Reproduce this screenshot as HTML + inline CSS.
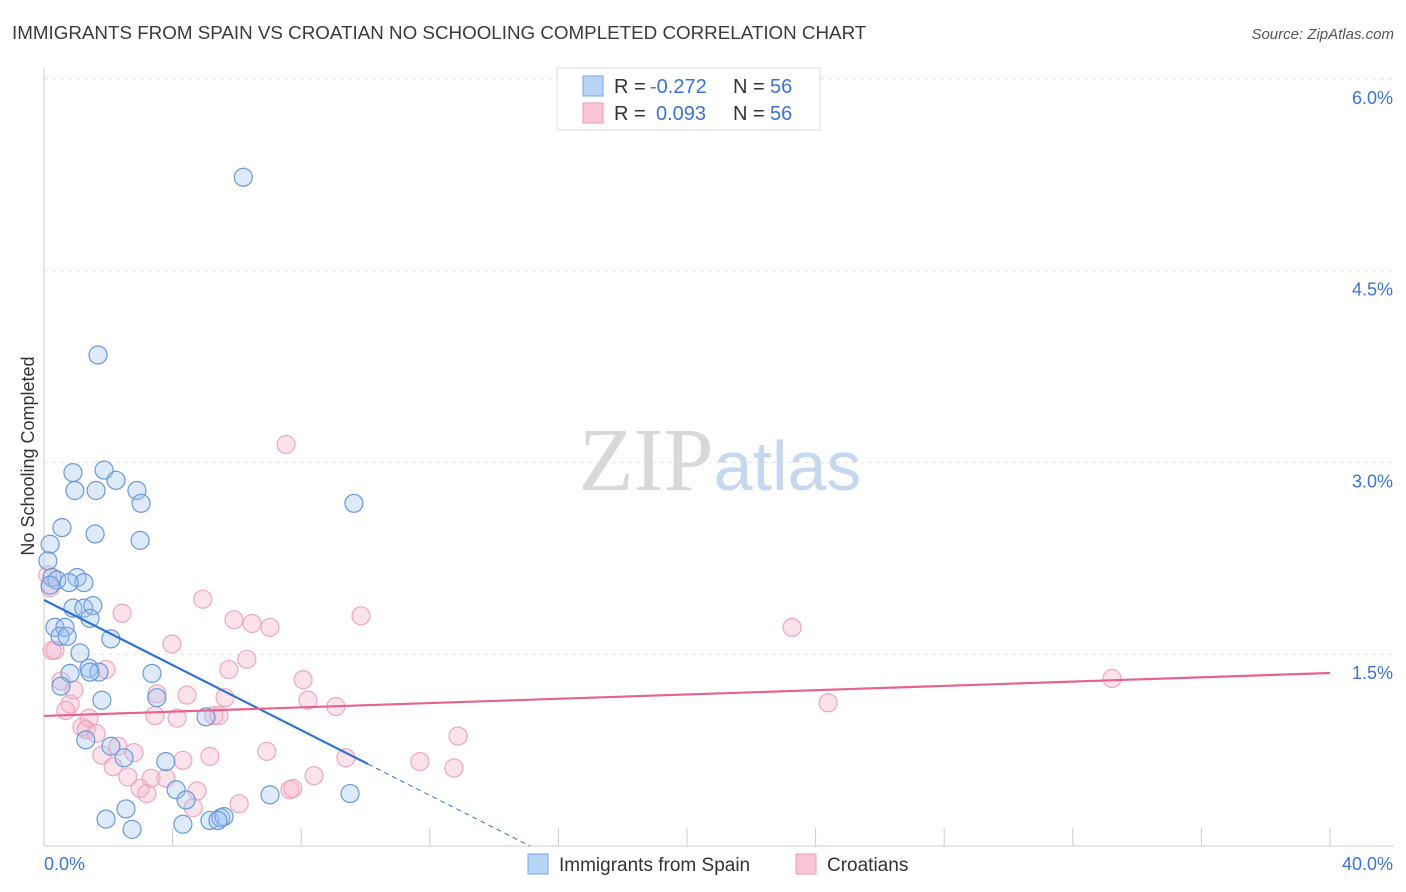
<!DOCTYPE html>
<html><head><meta charset="utf-8">
<style>
body{margin:0;background:#fff;font-family:"Liberation Sans",sans-serif;}
svg{display:block}
</style></head>
<body>
<svg id="chart" width="1406" height="892" xmlns="http://www.w3.org/2000/svg">
<text x="12" y="39" font-size="18.8" fill="#3a3a3a">IMMIGRANTS FROM SPAIN VS CROATIAN NO SCHOOLING COMPLETED CORRELATION CHART</text>
<text x="1394" y="39" font-size="15" fill="#555" text-anchor="end" font-style="italic">Source: ZipAtlas.com</text>
<text x="720" y="490" font-size="90" text-anchor="middle"><tspan fill="#d8d8d8" font-family="Liberation Serif">ZIP</tspan><tspan fill="#c5d8f0" font-size="70">atlas</tspan></text>
<g id="grid"></g>
<g id="axes"></g>
<g id="marks"></g>
<text transform="translate(34,456) rotate(-90)" font-size="18" fill="#333" text-anchor="middle">No Schooling Completed</text>
<g>
<rect x="557" y="68" width="263" height="62" fill="#fff" stroke="#ddd"/>
<rect x="583" y="76" width="20" height="20" fill="#b8d3f5" stroke="#7aa7e0"/>
<rect x="583" y="103" width="20" height="20" fill="#f9c6d5" stroke="#ee9ab4"/>
<text x="614" y="93" font-size="20" fill="#333">R =</text>
<text x="650" y="93" font-size="20" fill="#3a74d4">-0.272</text>
<text x="733" y="93" font-size="20" fill="#333">N =</text>
<text x="770" y="93" font-size="20" fill="#3a74d4">56</text>
<text x="614" y="120" font-size="20" fill="#333">R =</text>
<text x="656" y="120" font-size="20" fill="#3a74d4">0.093</text>
<text x="733" y="120" font-size="20" fill="#333">N =</text>
<text x="770" y="120" font-size="20" fill="#3a74d4">56</text>
</g>
<g>
<rect x="528" y="854" width="20" height="20" fill="#b8d3f5" stroke="#7aa7e0"/>
<text x="559" y="871" font-size="19" fill="#333">Immigrants from Spain</text>
<rect x="796" y="854" width="20" height="20" fill="#f9c6d5" stroke="#ee9ab4"/>
<text x="827" y="871" font-size="19" fill="#333">Croatians</text>
</g>
</svg>
<script>
const xTicks=[0,4,8,12,16,20,24,28,32,36,40];
const yTicks=[1.5,3.0,4.5,6.0];
const yTickLabels=["1.5%","3.0%","4.5%","6.0%"];
const spainX=[6.2,1.68,0.9,1.87,0.96,1.62,2.24,2.89,3.02,9.64,0.56,1.59,2.99,0.19,0.12,0.25,0.40,1.03,1.24,0.78,0.9,1.24,1.52,1.43,0.34,0.65,0.5,0.72,2.08,1.12,0.81,1.4,1.71,1.43,3.36,0.53,1.8,3.51,1.3,2.08,2.49,3.79,5.04,4.11,4.42,7.03,9.52,2.55,1.93,2.74,4.32,5.16,5.5,5.6,5.41,0.19];
const spainY=[5.23,3.84,2.92,2.94,2.78,2.78,2.86,2.78,2.68,2.68,2.49,2.44,2.39,2.36,2.23,2.1,2.08,2.1,2.06,2.06,1.86,1.86,1.88,1.78,1.71,1.71,1.64,1.64,1.62,1.51,1.35,1.39,1.36,1.36,1.35,1.25,1.14,1.16,0.83,0.78,0.69,0.66,1.01,0.44,0.36,0.40,0.41,0.29,0.21,0.13,0.17,0.20,0.22,0.23,0.20,2.04];
const croX=[7.53,4.94,2.43,5.91,6.47,7.03,9.86,23.27,3.98,0.34,6.31,5.75,1.93,8.06,0.53,33.22,0.93,4.45,3.51,5.63,8.21,0.81,0.68,1.4,3.45,4.14,5.28,5.44,9.08,24.39,1.18,1.31,1.62,2.3,2.8,4.32,5.16,6.93,9.39,12.88,1.8,2.15,2.61,3.33,3.79,2.99,3.2,4.76,4.64,6.07,7.65,7.74,8.4,11.69,12.75,0.12,0.19,0.25];
const croY=[3.14,1.93,1.82,1.77,1.74,1.71,1.8,1.71,1.58,1.53,1.46,1.38,1.38,1.30,1.29,1.31,1.22,1.18,1.19,1.16,1.14,1.11,1.06,1.0,1.02,1.0,1.02,1.02,1.09,1.12,0.93,0.91,0.88,0.78,0.73,0.67,0.70,0.74,0.69,0.86,0.71,0.62,0.54,0.53,0.53,0.45,0.41,0.43,0.30,0.33,0.44,0.45,0.55,0.66,0.61,2.12,2.02,1.53];
const spainLine=[1.924,-0.1273];
const croLine=[1.017,0.0084];
const X0=44,X1=1330,Y0=846,PY=127.87;
const sx=v=>X0+(X1-X0)*v/40, sy=v=>Y0-v*PY;
const NS="http://www.w3.org/2000/svg";
function mk(tag,attrs,parent){const e=document.createElementNS(NS,tag);for(const k in attrs)e.setAttribute(k,attrs[k]);parent.appendChild(e);return e;}
const grid=document.getElementById('grid'),axes=document.getElementById('axes'),marks=document.getElementById('marks');
yTicks.forEach((t,i)=>{
 const g=mk('line',{x1:X0,x2:1394,y1:sy(t),y2:sy(t),stroke:'#e2e2e2','stroke-dasharray':'4,4'},grid);
 
 
 const l=mk('text',{x:1393,y:sy(t)+25,'font-size':18,fill:'#3a74d4','text-anchor':'end'},axes);
 l.textContent=yTickLabels[i];
 
 
});
const ya=mk('line',{x1:X0,x2:X0,y1:68,y2:Y0,stroke:'#ccc'},axes);


const xa=mk('line',{x1:X0,x2:1394,y1:Y0,y2:Y0,stroke:'#ccc'},axes);


xTicks.forEach(t=>{const e=mk('line',{x1:sx(t),x2:sx(t),y1:Y0,y2:Y0-18,stroke:'#ccc'},axes);
 
 });
const xl0=mk('text',{x:44,y:870,'font-size':18,fill:'#3a74d4'},axes);xl0.textContent='0.0%';


const xl1=mk('text',{x:1393,y:870,'font-size':18,fill:'#3a74d4','text-anchor':'end'},axes);xl1.textContent='40.0%';


croX.forEach((x,i)=>{const c=mk('circle',{cx:sx(x),cy:sy(croY[i]),r:9,fill:'rgba(247,175,198,0.35)',stroke:'#f0a6bd','stroke-width':1.2},marks);
 
 });
spainX.forEach((x,i)=>{const c=mk('circle',{cx:sx(x),cy:sy(spainY[i]),r:9,fill:'rgba(160,196,240,0.35)',stroke:'#6699dd','stroke-width':1.2},marks);
 
 });
const xe=10.08, xz=-spainLine[0]/spainLine[1];
const bl=mk('line',{x1:sx(0),y1:sy(spainLine[0]),x2:sx(xe),y2:sy(spainLine[0]+spainLine[1]*xe),stroke:'#2f72d6','stroke-width':2.2},marks);


const bd=mk('line',{x1:sx(xe),y1:sy(spainLine[0]+spainLine[1]*xe),x2:sx(xz),y2:sy(0),stroke:'#2f72d6','stroke-width':1,'stroke-dasharray':'5,4'},marks);


const pl=mk('line',{x1:sx(0),y1:sy(croLine[0]),x2:sx(40),y2:sy(croLine[0]+croLine[1]*40),stroke:'#e8628f','stroke-width':2.2},marks);


</script>
</body></html>
